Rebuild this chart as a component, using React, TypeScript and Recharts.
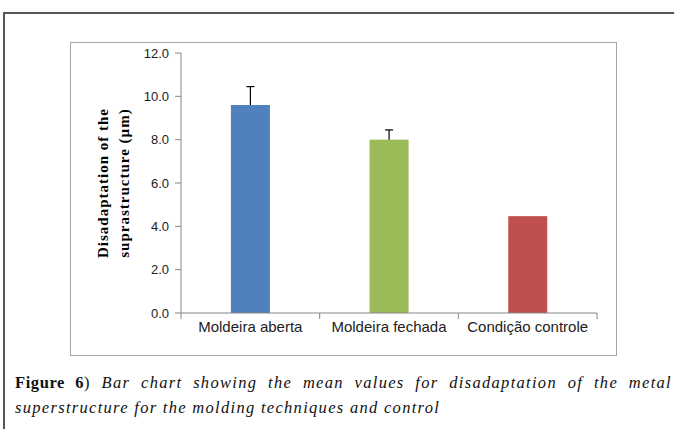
import React from "react";
import { BarChart, Bar, XAxis, YAxis, Cell } from "recharts";

const categories = ["Moldeira aberta", "Moldeira fechada", "Condição controle"];
const means = [9.6, 8.0, 4.47];
const errors = [0.85, 0.45, 0];
const colors = ["#4F81BD", "#9BBB59", "#C0504D"];
const yTicks = [0, 2, 4, 6, 8, 10, 12];

const data = categories.map((name, i) => ({ name, mean: means[i], err: errors[i] }));

const axisGray = "#868686";
const fontSans = "'Liberation Sans', Arial, sans-serif";

// bar with an upper-only error whisker, scaled from the bar's own height
const BarWithError = (props: any) => {
  const { x, y, width, height, fill, payload } = props;
  const perUnit = payload.mean ? height / payload.mean : 0;
  const top = y - payload.err * perUnit;
  const cx = x + width / 2;
  return (
    <g>
      <rect x={x} y={y} width={width} height={height} fill={fill} />
      {payload.err > 0 && (
        <g stroke="#000" strokeWidth={1.2}>
          <line x1={cx} x2={cx} y1={y} y2={top} />
          <line x1={cx - 4} x2={cx + 4} y1={top} y2={top} />
        </g>
      )}
    </g>
  );
};

// category label plus Excel-style tick marks on the category boundaries
const CategoryTick = (props: any) => {
  const { x, y, payload } = props;
  const half = payload.offset || 0;
  const y0 = y - 8;
  return (
    <g>
      {payload.index === 0 && (
        <line x1={x - half} x2={x - half} y1={y0} y2={y0 + 6} stroke={axisGray} />
      )}
      <line x1={x + half} x2={x + half} y1={y0} y2={y0 + 6} stroke={axisGray} />
      <text x={x} y={y} dy="0.71em" textAnchor="middle" fontSize={15} fill="#222" fontFamily={fontSans}>
        {payload.value}
      </text>
    </g>
  );
};

const YTitle = ({ viewBox }: any) => {
  const cy = viewBox.y + viewBox.height / 2;
  const lines = ["Disadaptation of the", "suprastructure (µm)"];
  const xs = [33, 54];
  return (
    <g>
      {lines.map((t, i) => (
        <text
          key={t}
          x={xs[i]}
          y={cy}
          transform={`rotate(-90, ${xs[i]}, ${cy})`}
          textAnchor="middle"
          dominantBaseline="central"
          fontFamily="'Liberation Serif', serif"
          fontWeight="bold"
          fontSize={15}
          letterSpacing={1}
          fill="#000"
        >
          {t}
        </text>
      ))}
    </g>
  );
};

export default function App() {
  return (
    <div
      style={{
        position: "absolute",
        left: 0,
        top: 0,
        width: 674,
        height: 429,
        background: "#fff",
        overflow: "hidden",
      }}
    >
      <div
        style={{
          position: "absolute",
          left: 3,
          top: 12,
          width: 720,
          height: 440,
          borderTop: "2px solid #555",
          borderLeft: "2px solid #555",
        }}
      />
      <div
        style={{
          position: "absolute",
          left: 70,
          top: 42,
          width: 545,
          height: 312,
          border: "1px solid #a6a6a6",
        }}
      />
      <div style={{ position: "absolute", left: 70, top: 42 }}>
        <BarChart
          width={546}
          height={312}
          data={data}
          margin={{ top: 11, right: 19, left: 0, bottom: 11 }}
          barCategoryGap="36%"
        >
          <XAxis
            dataKey="name"
            height={30}
            interval={0}
            axisLine={{ stroke: axisGray }}
            tickLine={false}
            tickSize={0}
            tickMargin={8}
            tick={<CategoryTick />}
          />
          <YAxis
            width={111}
            domain={[0, 12]}
            ticks={yTicks}
            tickFormatter={(v: number) => v.toFixed(1)}
            axisLine={{ stroke: axisGray }}
            tickLine={{ stroke: axisGray }}
            tickSize={6}
            tickMargin={6}
            tick={{ fontSize: 13, fill: "#222", fontFamily: fontSans }}
            label={{ content: <YTitle /> }}
          />
          <Bar dataKey="mean" isAnimationActive={false} shape={<BarWithError />}>
            {data.map((d, i) => (
              <Cell key={d.name} fill={colors[i]} />
            ))}
          </Bar>
        </BarChart>
      </div>
      <div
        style={{
          position: "absolute",
          left: 15,
          top: 370,
          width: 657,
          fontFamily: "'Liberation Serif', serif",
          fontSize: 16.5,
          letterSpacing: 1.3,
          lineHeight: "25px",
          color: "#111",
        }}
      >
        <div style={{ textAlign: "justify", textAlignLast: "justify", whiteSpace: "nowrap" as any }}>
          <b style={{ letterSpacing: 0.6 }}>Figure 6</b>) <i>Bar chart showing the mean values for disadaptation of the metal</i>
        </div>
        <div>
          <i>superstructure for the molding techniques and control</i>
        </div>
      </div>
    </div>
  );
}
